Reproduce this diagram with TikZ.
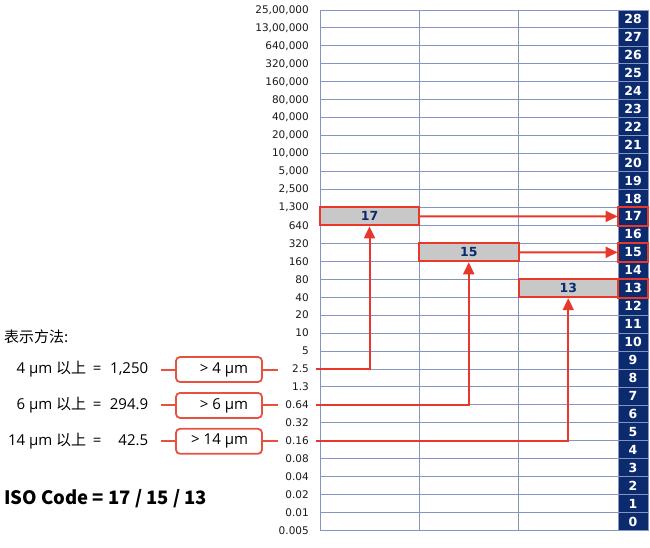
\documentclass[tikz,border=0pt]{standalone}
\usepackage{fontspec}
\setmainfont{DejaVu Sans}
\newfontfamily\cjk{Noto Sans CJK SC}
\newfontfamily\lat{Open Sans}
\usetikzlibrary{arrows.meta}
\definecolor{navy}{HTML}{0C2A6E}
\definecolor{gridc}{HTML}{8595C0}
\definecolor{arrred}{HTML}{E8382A}
\definecolor{boxred}{HTML}{E8503F}
\definecolor{boxgray}{HTML}{C8C8C8}
\definecolor{lbl}{HTML}{1A1A1A}
\begin{document}
\begin{tikzpicture}[x=1pt,y=-1pt,
  gridline/.style={draw=gridc, line width=1pt},
  scalelbl/.style={anchor=east, font=\fontsize{10.5}{12}\selectfont, text=lbl, inner sep=0pt},
  cellbox/.style={fill=navy, draw=gridc, line width=0.8pt, minimum width=30pt, minimum height=17.95pt, inner sep=0pt, text=white, font=\bfseries\fontsize{12.5}{14}\selectfont},
  graybox/.style={fill=boxgray, draw=arrred, line width=2pt, minimum height=17.95pt, inner sep=0pt, text=navy, font=\bfseries\fontsize{12.5}{14}\selectfont},
  hilite/.style={draw=arrred, line width=2pt},
  arr/.style={draw=arrred, line width=2pt, -{Triangle[length=12pt,width=11pt]}},
  lbox/.style={draw=boxred, line width=1.8pt, rounded corners=4pt, minimum width=86pt, minimum height=25pt, inner sep=0pt, font=\lat\fontsize{15}{18}\selectfont},
  lline/.style={draw=boxred, line width=2pt},
  rowtxt/.style={anchor=west, inner sep=0pt, font=\lat\fontsize{15}{18}\selectfont}
]
\useasboundingbox (0,0) rectangle (650,547);

% horizontal grid lines and scale labels
\foreach \t [count=\i from 0] in {{25,00,000},{13,00,000},{640,000},{320,000},{160,000},{80,000},{40,000},{20,000},{10,000},{5,000},{2,500},{1,300},{640},{320},{160},{80},{40},{20},{10},{5},{2.5},{1.3},{0.64},{0.32},{0.16},{0.08},{0.04},{0.02},{0.01},{0.005}}{
  \pgfmathsetmacro{\yy}{10+17.95*\i}
  \draw[gridline] (320,\yy) -- (618,\yy);
  \node[scalelbl] (s\i) at (309,\yy) {\t};
}
% vertical grid lines
\draw[gridline] (320,10) -- (320,530.55);
\draw[gridline] (419,10) -- (419,530.55);
\draw[gridline] (518.5,10) -- (518.5,530.55);

% right column cells
\foreach \n in {0,...,28}{
  \pgfmathsetmacro{\yy}{10+17.95*(28-\n+0.5)}
  \node[cellbox] (c\n) at (633,\yy) {\n};
}

% gray boxes
\node[graybox, minimum width=99pt] (b17) at (369.5,216.4) {17};
\node[graybox, minimum width=99.5pt] (b15) at (468.75,252.3) {15};
\node[graybox, minimum width=99.5pt] (b13) at (568.25,288.2) {13};

% highlighted cells
\foreach \n in {17,15,13}{
  \draw[hilite] (c\n.north west) rectangle (c\n.south east);
}

% horizontal arrows
\draw[arr] (b17.east) -- (c17.west);
\draw[arr] (b15.east) -- (c15.west);

% vertical arrows
\coordinate (p4) at (316,369);
\coordinate (p6) at (316,404.9);
\coordinate (p14) at (316,440.8);
\draw[arr] (p4) -| (b17.south);
\draw[arr] (p6) -| (b15.south);
\draw[arr] (p14) -| (b13.south);

% left text
\node[rowtxt, font=\cjk\fontsize{15}{18}\selectfont] (hdr) at (4,337) {表示方法:};
\node[rowtxt] (r4) at (4,369) {\makebox[82pt][r]{4 µm {\cjk 以上}}\hspace{4pt}\makebox[14pt]{=}\makebox[44pt][r]{1,250}};
\node[rowtxt] (r6) at (4,404.9) {\makebox[82pt][r]{6 µm {\cjk 以上}}\hspace{4pt}\makebox[14pt]{=}\makebox[44pt][r]{294.9}};
\node[rowtxt] (r14) at (4,440.8) {\makebox[82pt][r]{14 µm {\cjk 以上}}\hspace{4pt}\makebox[14pt]{=}\makebox[44pt][r]{42.5}};

% rounded boxes
\node[lbox] (g4) at (219,369.5) {\makebox[58pt][r]{> 4 µm}};
\node[lbox] (g6) at (219,405.4) {\makebox[58pt][r]{> 6 µm}};
\node[lbox] (g14) at (219,441.3) {\makebox[58pt][r]{> 14 µm}};
\coordinate (a4) at (161,369.5);
\coordinate (a6) at (161,405.4);
\coordinate (a14) at (161,441.3);
\coordinate (e4) at (278,369.5);
\coordinate (e6) at (278,405.4);
\coordinate (e14) at (278,441.3);
\draw[lline] (a4) -- (g4.west);
\draw[lline] (a6) -- (g6.west);
\draw[lline] (a14) -- (g14.west);
\draw[lline] (g4.east) -- (e4);
\draw[lline] (g6.east) -- (e6);
\draw[lline] (g14.east) -- (e14);

% ISO code
\node[anchor=west, inner sep=0pt, font=\cjk\bfseries\fontsize{18.5}{22}\selectfont] (iso) at (4,499) {ISO Code = 17 / 15 / 13};
\end{tikzpicture}
\end{document}
